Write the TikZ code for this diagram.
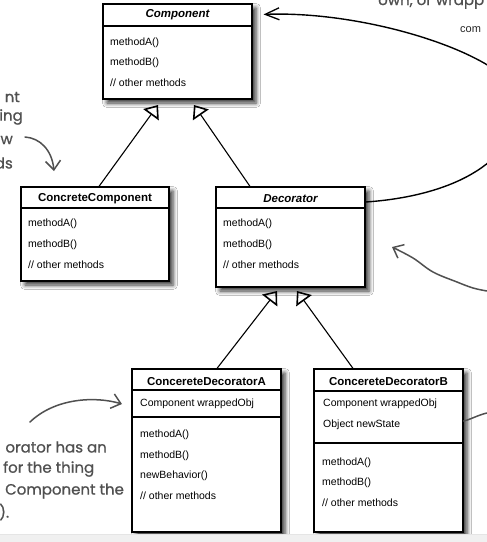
\documentclass[tikz,border=0pt]{standalone}
\usepackage{fontspec}
\setmainfont{Liberation Sans}
\newfontfamily\handfont[FakeBold=0.8]{Poppins}
\usetikzlibrary{arrows.meta,shadows.blur,calc}
\definecolor{handgray}{RGB}{80,80,80}
\definecolor{bandgray}{RGB}{240,240,240}
\begin{document}
\begin{tikzpicture}[x=1pt,y=-1pt,
  umlbox/.style={draw,line width=1.2pt,fill=white,inner sep=0pt,rectangle,
     blur shadow={shadow xshift=4pt,shadow yshift=-4pt,shadow blur radius=4.5pt,shadow opacity=80}},
  sepline/.style={line width=1.2pt},
  ctitle/.style={inner sep=0pt,font=\fontsize{11.5}{13}\selectfont\bfseries},
  atitle/.style={inner sep=0pt,font=\fontsize{11.5}{13}\selectfont\bfseries\itshape},
  member/.style={anchor=west,inner sep=0pt,font=\fontsize{10.5}{12}\selectfont},
  inherit/.style={line width=1.1pt,-{Triangle[open,length=12pt,width=19pt,line width=1.6pt]}},
  assoc/.style={line width=1.4pt,-{Straight Barb[length=14pt,width=12pt,line width=1.3pt]}},
  hand/.style={draw=handgray,line width=1.5pt,line cap=round},
  handarrow/.style={hand,-{Straight Barb[length=9pt,width=15pt,line width=1.5pt]}},
  handtext/.style={text=handgray,inner sep=0pt,font=\handfont\fontsize{15}{17}\selectfont},
]
\useasboundingbox (0,0) rectangle (487,542);
\clip (0,0) rectangle (487,542);
\fill[white] (0,0) rectangle (487,542);

% Component
\node[umlbox,minimum width=149pt,minimum height=95pt] (comp) at (177.5,51.5) {};
\node[atitle] (compt) at (177.5,15) {Component};
\draw[sepline] (comp.west |- 0,26) -- (comp.east |- 0,26);
\node[member] (compm1) at (110,43) {methodA()};
\node[member] (compm2) at (110,63) {methodB()};
\node[member] (compm3) at (110,83) {// other methods};

% ConcreteComponent
\node[umlbox,minimum width=148pt,minimum height=94pt] (cc) at (95,234) {};
\node[ctitle] (cct) at (95,199) {ConcreteComponent};
\draw[sepline] (cc.west |- 0,208) -- (cc.east |- 0,208);
\node[member] (ccm1) at (28,224) {methodA()};
\node[member] (ccm2) at (28,245) {methodB()};
\node[member] (ccm3) at (28,265) {// other methods};

% Decorator
\node[umlbox,minimum width=149pt,minimum height=100pt] (dec) at (290.5,237) {};
\node[atitle] (dect) at (290.5,199) {Decorator};
\draw[sepline] (dec.west |- 0,208) -- (dec.east |- 0,208);
\node[member] (decm1) at (223,224) {methodA()};
\node[member] (decm2) at (223,245) {methodB()};
\node[member] (decm3) at (223,265) {// other methods};

% ConcereteDecoratorA
\node[umlbox,minimum width=149pt,minimum height=163pt] (cda) at (206.5,450.5) {};
\node[ctitle] (cdat) at (206.5,382) {ConcereteDecoratorA};
\draw[sepline] (cda.west |- 0,390) -- (cda.east |- 0,390);
\node[member] (cdaa1) at (140,404) {Component wrappedObj};
\draw[sepline] (cda.west |- 0,417) -- (cda.east |- 0,417);
\node[member] (cdam1) at (140,435) {methodA()};
\node[member] (cdam2) at (140,456) {methodB()};
\node[member] (cdam3) at (140,476) {newBehavior()};
\node[member] (cdam4) at (140,496) {// other methods};

% ConcereteDecoratorB
\node[umlbox,minimum width=149pt,minimum height=163pt] (cdb) at (388.5,450.5) {};
\node[ctitle] (cdbt) at (388.5,382) {ConcereteDecoratorB};
\draw[sepline] (cdb.west |- 0,391) -- (cdb.east |- 0,391);
\node[member] (cdba1) at (323,404) {Component wrappedObj};
\node[member] (cdba2) at (323,425) {Object newState};
\draw[sepline] (cdb.west |- 0,443) -- (cdb.east |- 0,443);
\node[member] (cdbm1) at (322,463) {methodA()};
\node[member] (cdbm2) at (322,483) {methodB()};
\node[member] (cdbm3) at (322,503) {// other methods};

% inheritance
\coordinate (tipA) at (158,105);
\coordinate (tipB) at (194,105);
\coordinate (tipC) at (277,291);
\coordinate (tipD) at (297,291);
\draw[inherit] (cc.north -| 99,0) -- (tipA);
\draw[inherit] (dec.north -| 250,0) -- (tipB);
\draw[inherit] (cda.north -| 217,0) -- (tipC);
\draw[inherit] (cdb.north -| 353,0) -- (tipD);

% association Decorator -> Component
\draw[assoc] (dec.north east |- 0,202) .. controls (440,197) and (510,170) .. (520,110)
  .. controls (535,65) and (380,10) .. ($(comp.north east)+(11pt,-11pt)$);

% handwritten notes
\node[handtext,anchor=base west] (n1) at (378,5) {own, or wrapp};
\node[anchor=base west,inner sep=0pt,text=black!85,font=\fontsize{11}{13}\selectfont] (n2) at (460,32) {com};
\node[handtext,anchor=east] (n3) at (20,97) {nt};
\node[handtext,anchor=east] (n4) at (23,117) {ing};
\node[handtext,anchor=east] (n5) at (13,140) {w};
\node[handtext,anchor=east] (n6) at (13,163) {ds};
\draw[handarrow] (25,137) .. controls (40,138) and (52,150) .. (54,171);

\node[handtext,anchor=east] (n7) at (107,447) {orator has an};
\node[handtext,anchor=west] (n8) at (3,469) {for the thing};
\node[handtext,anchor=west] (n9) at (5,491) {Component the};
\node[handtext,anchor=west] (n10) at (-1,512) {).};
\draw[handarrow] (30,422) .. controls (55,398) and (95,396) .. (122,404);

\draw[handarrow] plot[smooth,tension=0.6] coordinates {(487,291) (473,288) (457,282) (433,272) (413,258) (392,247)};
\draw[hand] (cdb.east |- 0,421) .. controls (472,419) and (478,415) .. (487,413);

% bottom band
\fill[bandgray] (0,534) rectangle (487,542);
\draw[black!10,line width=0.6pt] (0,534) -- (487,534);
\end{tikzpicture}
\end{document}
